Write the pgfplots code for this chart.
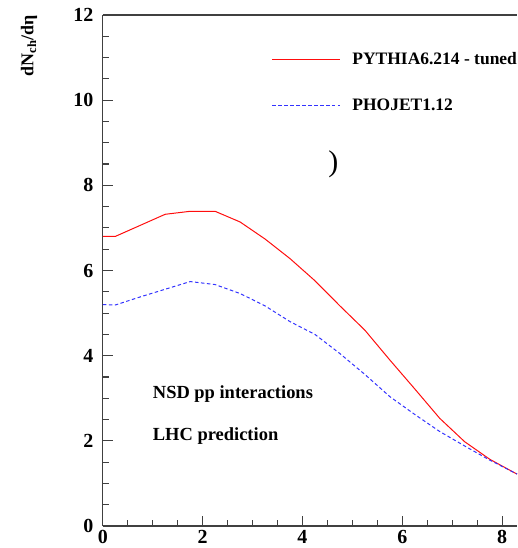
\documentclass[border=0pt]{standalone}
\usepackage{fontspec}
\setmainfont{Liberation Serif}
\usepackage{pgfplots}
\pgfplotsset{compat=1.18}
\begin{document}
\begin{tikzpicture}
\begin{axis}[
  scale only axis, width=415pt, height=512pt,
  xmin=0, xmax=8.3, ymin=0, ymax=12,
  axis x line=box, axis y line=left,
  axis line style={-, black!75, line width=1.2pt},
  xtick={0,2,4,6,8}, ytick={0,2,4,6,8,10,12},
  minor x tick num=3, minor y tick num=3,
  xtick pos=left, ytick pos=left,
  tick align=inside,
  major tick length=10pt, minor tick length=6pt,
  tick style={black!75, line width=1.1pt},
  /pgf/number format/assume math mode=true,
  ticklabel style={font=\fontsize{20}{20}\selectfont\bfseries},
  yticklabel style={xshift=-6pt},
  xticklabel style={yshift=-1pt},
  clip=false,
  legend style={draw=none, fill=none, at={(rel axis cs:0.407,0.868)}, anchor=west,
    font=\fontsize{17.5}{17.5}\selectfont\bfseries, row sep=33pt, column sep=12pt,
    inner sep=0pt, nodes={inner sep=0pt}},
  legend cell align=left,
  legend image code/.code={\draw[#1] (0pt,0pt) -- (68pt,0pt);},
]
\addplot[red!95!white, line width=1pt] coordinates {
(0,6.80)(0.25,6.80)(0.75,7.06)(1.25,7.32)(1.75,7.39)(2.25,7.39)(2.75,7.14)(3.25,6.74)(3.75,6.28)(4.25,5.76)(4.75,5.17)(5.25,4.60)(5.75,3.90)(6.25,3.22)(6.75,2.53)(7.25,1.98)(7.75,1.57)(8.25,1.25)(8.3,1.22)};
\addlegendentry{PYTHIA6.214 - tuned}
\addplot[blue!80!white, line width=1pt, dash pattern=on 3.5pt off 2.5pt] coordinates {
(0,5.20)(0.25,5.19)(0.75,5.38)(1.25,5.56)(1.75,5.74)(2.25,5.67)(2.75,5.46)(3.25,5.17)(3.75,4.80)(4.25,4.50)(4.75,4.05)(5.25,3.56)(5.75,3.04)(6.25,2.62)(6.75,2.22)(7.25,1.88)(7.75,1.55)(8.25,1.25)(8.3,1.22)};
\addlegendentry{PHOJET1.12}
\node[anchor=base west, inner sep=0pt, font=\fontsize{18.5}{18.5}\selectfont\bfseries] at (axis cs:1.0,2.99) {NSD pp interactions};
\node[anchor=base west, inner sep=0pt, font=\fontsize{18.5}{18.5}\selectfont\bfseries] at (axis cs:1.0,2.0) {LHC prediction};
\node[inner sep=0pt, font=\fontsize{30}{30}\selectfont] at (axis cs:4.62,8.5) {)};
\node[rotate=90, inner sep=0pt, font=\fontsize{18}{18}\selectfont\bfseries] at ([xshift=-74pt]rel axis cs:0,0.94) {dN\textsubscript{ch}/dη};
\coordinate (bl) at (rel axis cs:0,0);
\coordinate (tr) at (rel axis cs:1,1);
\end{axis}
\pgfresetboundingbox
\path ([shift={(-103pt,-22pt)}]bl) rectangle ([shift={(0pt,15pt)}]tr);
\end{tikzpicture}
\end{document}
